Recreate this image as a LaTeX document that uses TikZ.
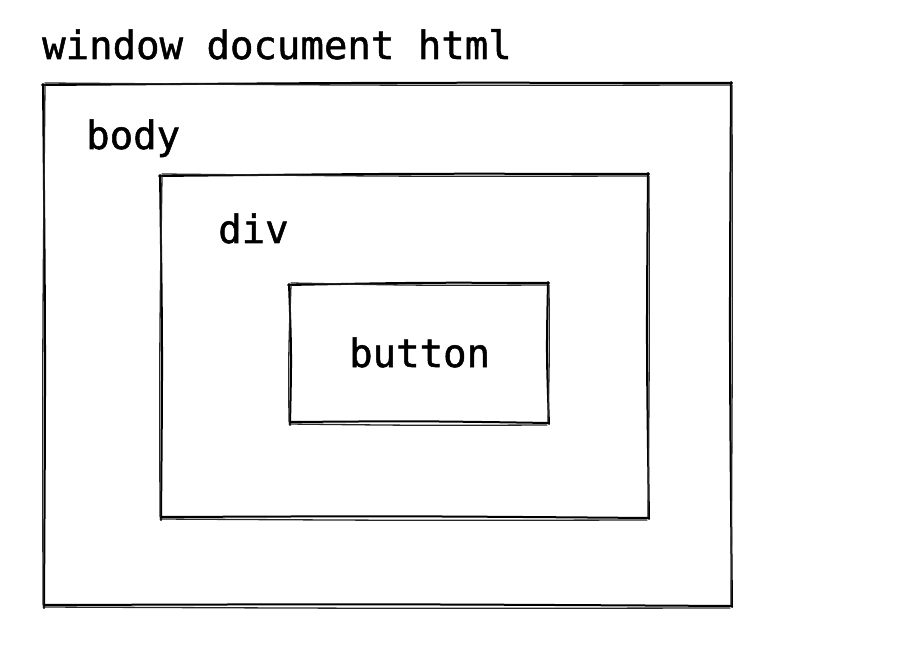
\documentclass[tikz,border=0pt]{standalone}
\usepackage{fontspec}
\setmonofont[FakeBold=1.3,BoldFont={DejaVu Sans Mono}]{DejaVu Sans Mono}
\tikzset{
  sk/.style={line width=2pt, line cap=round, black},
  sk2/.style={line width=1.3pt, line cap=round, black!85},
  lbl/.style={anchor=base west, inner sep=0pt, font=\ttfamily\bfseries\fontsize{39}{41}\selectfont}
}
\newcommand\sketchbox[4]{%
  % first pass
  \draw[sk] (#1-2,#2+1) .. controls ({(#1+#3)/2},#2-1.5) .. (#3+1,#2-1);
  \draw[sk] (#3,#2-2) .. controls (#3-1.5,{(#2+#4)/2}) .. (#3+1,#4+1);
  \draw[sk] (#3+1,#4) .. controls ({(#1+#3)/2},#4-2) .. (#1,#4-1);
  \draw[sk] (#1,#4+2) .. controls (#1+1.5,{(#2+#4)/2}) .. (#1-1,#2);
  % second pass
  \draw[sk2] (#1+1,#2-1) .. controls ({(#1+#3)/2},#2+1.5) .. (#3-1,#2+1);
  \draw[sk2] (#3+1,#2+1) .. controls (#3+1.5,{(#2+#4)/2}) .. (#3,#4-1);
  \draw[sk2] (#3-1,#4+2) .. controls ({(#1+#3)/2},#4+2.5) .. (#1-1,#4+1);
  \draw[sk2] (#1-1,#4-1) .. controls (#1-1.5,{(#2+#4)/2}) .. (#1+1,#2+1);
}
\begin{document}
\begin{tikzpicture}[x=1pt,y=-1pt]
\useasboundingbox (0,0) rectangle (898,650);
\sketchbox{44}{84}{731}{606}
\sketchbox{161}{175}{648}{518}
\sketchbox{290}{284}{548}{423}
\node[lbl] (window) at (42,59) {window document html};
\node[lbl] (body) at (86,149) {body};
\node[lbl] (div) at (218,243) {div};
\node[lbl] (button) at (349,367) {button};
\end{tikzpicture}
\end{document}
